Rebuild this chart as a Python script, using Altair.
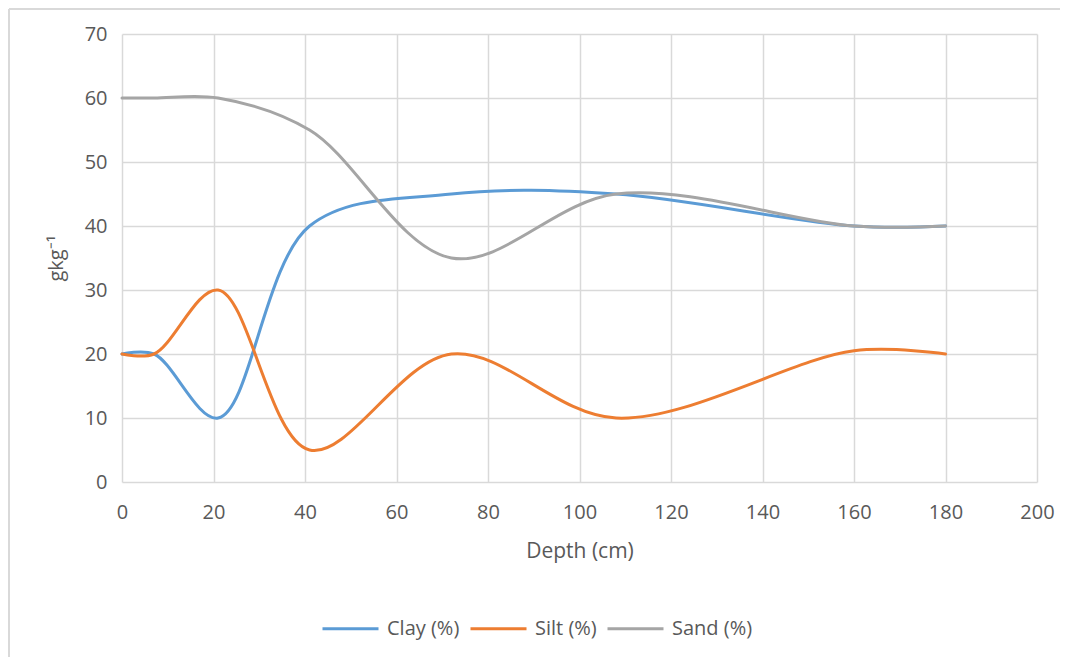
import altair as alt
import pandas as pd

depth = [0, 7, 21, 41, 72, 108, 160, 180]
clay = [20, 20, 10, 40, 45, 45, 40, 40]
silt = [20, 20, 30, 5, 20, 10, 20.5, 20]
sand = [60, 60, 60, 55, 35, 45, 40, 40]
series = ["Clay (%)", "Silt (%)", "Sand (%)"]
colors = ["#5B9BD5", "#ED7D31", "#A5A5A5"]

rows = []
for name, vals in zip(series, [clay, silt, sand]):
    for d, v in zip(depth, vals):
        rows.append({"Depth": d, "Value": v, "Series": name})
df = pd.DataFrame(rows)

FONT = "Open Sans"
GRAY = "#595959"

lines = alt.Chart(df).mark_line(interpolate="catmull-rom", strokeWidth=3, strokeCap="round").encode(
    x=alt.X("Depth:Q", scale=alt.Scale(domain=[0, 200], nice=False),
            axis=alt.Axis(values=list(range(0, 201, 20)), title="Depth (cm)", grid=True,
                          domain=False, ticks=False, labelPadding=20, titlePadding=18,
                          labelFlush=False)),
    y=alt.Y("Value:Q", scale=alt.Scale(domain=[0, 70], nice=False),
            axis=alt.Axis(values=list(range(0, 71, 10)), title="gkg⁻¹", grid=True,
                          domain=False, ticks=False, labelPadding=15, titlePadding=18,
                          labelFlush=False)),
    color=alt.Color("Series:N", scale=alt.Scale(domain=series, range=colors), sort=series,
                    legend=alt.Legend(title=None, orient="none", direction="horizontal",
                                      legendX=199, legendY=565, symbolType="stroke",
                                      symbolSize=3136, symbolStrokeWidth=3,
                                      labelFontSize=20, labelColor=GRAY, labelFont=FONT,
                                      labelOffset=7, columnPadding=4, symbolOffset=0)),
    order=alt.Order("Series:N"),
)

edge = pd.DataFrame({"a": [0]})
top_line = alt.Chart(edge).mark_rule().encode(
    x=alt.value(-113), x2=alt.value(940), y=alt.value(-25),
    stroke=alt.value("#d9d9d9"), strokeWidth=alt.value(2)
)
left_line = alt.Chart(edge).mark_rule().encode(
    x=alt.value(-113), y=alt.value(-25), y2=alt.value(625),
    stroke=alt.value("#d9d9d9"), strokeWidth=alt.value(2)
)

chart = alt.layer(lines, top_line, left_line).properties(
    width=915, height=448,
    padding={"left": 114, "top": 26, "right": 23, "bottom": 175},
    autosize=alt.AutoSizeParams(type="none"),
).configure_view(stroke=None).configure_axis(
    gridColor="#d9d9d9", gridWidth=1.5, labelColor=GRAY, titleColor=GRAY,
    labelFont=FONT, titleFont=FONT, titleFontWeight="normal",
    labelFontSize=20
).configure_axisX(titleFontSize=21).configure_axisY(titleFontSize=20)

chart.save("out.html", embed_options={"renderer": "svg", "actions": False})
